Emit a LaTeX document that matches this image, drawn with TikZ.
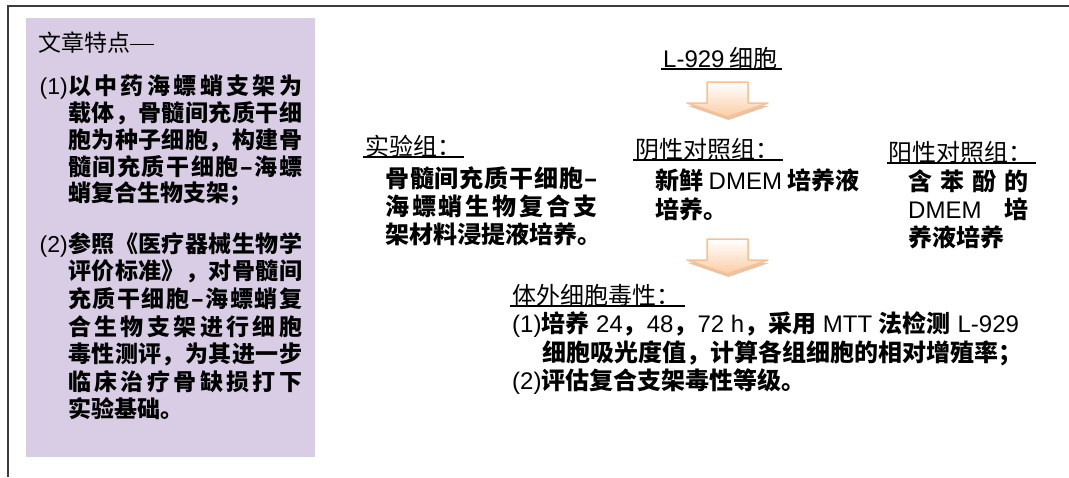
\documentclass[tikz,border=0pt]{standalone}
\usepackage{fontspec}
\setmainfont{Liberation Sans}
\newfontfamily\cjk{Noto Sans CJK SC}
\definecolor{purp}{RGB}{217,205,229}
\definecolor{frame}{RGB}{60,60,60}
\definecolor{arredge}{RGB}{250,192,143}
\definecolor{arrfill}{RGB}{251,205,165}
\definecolor{arrshad}{RGB}{205,150,100}
\newcommand\lt[1]{{\rmfamily\mdseries #1}}
\def\jstinner#1{#1\jstnext}
\def\jstnext#1{\ifx\jstend#1\else\hfill#1\expandafter\jstnext\fi}
\newcommand\jst[2]{\hbox to #1{\jstinner#2\jstend}}
\newcommand\blockarrow[2]{%
  \fill[arrshad,opacity=.55] (#1-19.5,#2+3) -- (#1+21.5,#2+3) -- (#1+21.5,#2+24) -- (#1+41.5,#2+24) -- (#1+1,#2+38) -- (#1-39.5,#2+24) -- (#1-19.5,#2+24) -- cycle;
  \shade[top color=white,bottom color=arrfill,draw=arredge,line width=1.5pt,line join=round]
    (#1-20.5,#2) -- (#1+20.5,#2) -- (#1+20.5,#2+21) -- (#1+40.5,#2+21) -- (#1,#2+35) -- (#1-40.5,#2+21) -- (#1-20.5,#2+21) -- cycle;}
\tikzset{
  hd/.style={anchor=west,inner sep=0pt,font=\cjk\fontsize{24}{28}\selectfont},
  bd/.style={anchor=west,inner sep=0pt,font=\cjk\bfseries\fontsize{24}{28}\selectfont},
  lhd/.style={anchor=west,inner sep=0pt,font=\cjk\fontsize{23}{27}\selectfont},
  lbd/.style={anchor=west,inner sep=0pt,font=\cjk\bfseries\fontsize{23}{27}\selectfont},
  num/.style={anchor=base east,inner sep=0pt},
  ul/.style={line width=1.8pt,black}
}
\begin{document}
\begin{tikzpicture}[x=1pt,y=-1pt]
\useasboundingbox (0,0) rectangle (1069,477);
\draw[frame,line width=2pt] (7.5,477) -- (7.5,6) -- (1069,6);
\fill[purp] (26,18) rectangle (315,457);
% left box
\node[lhd] (t0) at (38,43) {文章特点\rule[7.5pt]{24pt}{0.9pt}};
\node[lbd] (a1) at (68,86) {\jst{234pt}{以中药海螵蛸支架为}};
\node[lhd,num] (a0) at (a1.base west) {\lt{(1)}};
\node[lbd] (a2) at (68,113) {\jst{234pt}{载体，骨髓间充质干细}};
\node[lbd] (a3) at (68,140) {\jst{234pt}{胞为种子细胞，构建骨}};
\node[lbd] (a4) at (68,167) {\jst{234pt}{髓间充质干细胞–海螵}};
\node[lbd] (a5) at (68,194) {蛸复合生物支架；};
\node[lbd] (b1) at (68,244) {\jst{234pt}{参照《医疗器械生物学}};
\node[lhd,num] (b0) at (b1.base west) {\lt{(2)}};
\node[lbd] (b2) at (68,271.5) {\jst{234pt}{评价标准》，对骨髓间}};
\node[lbd] (b3) at (68,299) {\jst{234pt}{充质干细胞–海螵蛸复}};
\node[lbd] (b4) at (68,326.5) {\jst{234pt}{合生物支架进行细胞}};
\node[lbd] (b5) at (68,354) {\jst{234pt}{毒性测评，为其进一步}};
\node[lbd] (b6) at (68,381.5) {\jst{234pt}{临床治疗骨缺损打下}};
\node[lbd] (b7) at (68,409) {实验基础。};
% top
\node[hd] (cell) at (663,58) {\lt{L-929} 细胞};
\draw[ul] ([xshift=-2pt]cell.south west) -- ([xshift=4pt]cell.south east);
\blockarrow{727.5}{82}
% experimental group
\node[hd] (eh) at (365,146) {实验组：};
\draw[ul] ([xshift=-2pt]eh.south west) -- ([xshift=3pt]eh.south east);
\node[bd] (e1) at (385,178) {\jst{212pt}{骨髓间充质干细胞–}};
\node[bd] (e2) at (385,206) {\jst{212pt}{海螵蛸生物复合支}};
\node[bd] (e3) at (385,234) {架材料浸提液培养。};
% negative control
\node[hd] (nh) at (635,149) {阴性对照组：};
\draw[ul] ([xshift=-2pt]nh.south west) -- ([xshift=4pt]nh.south east);
\node[bd] (n1) at (655,180) {新鲜 \lt{DMEM} 培养液};
\node[bd] (n2) at (655,209) {培养。};
% positive control
\node[hd] (ph) at (888,152) {阳性对照组：};
\draw[ul] ([xshift=-1pt]ph.south west) -- ([xshift=4pt]ph.south east);
\node[bd] (p1) at (908,181) {\jst{120pt}{含苯酚的}};
\node[bd] (p2) at (908,209) {\jst{120pt}{{\lt{DMEM}}培}};
\node[bd] (p3) at (908,237) {养液培养};
\blockarrow{727.5}{239}
% in vitro
\node[hd] (vh) at (512,295) {体外细胞毒性：};
\draw[ul] ([xshift=-2pt]vh.south west) -- ([xshift=5pt]vh.south east);
\node[bd] (v1) at (512,325) {\lt{(1)}培养\lt{ 24}，\lt{48}，\lt{72 h}，采用\lt{ MTT }法检测\lt{ L-929}};
\node[bd] (v2) at (542,353) {细胞吸光度值，计算各组细胞的相对增殖率；};
\node[bd] (v3) at (512,382) {\lt{(2)}评估复合支架毒性等级。};
\end{tikzpicture}
\end{document}
